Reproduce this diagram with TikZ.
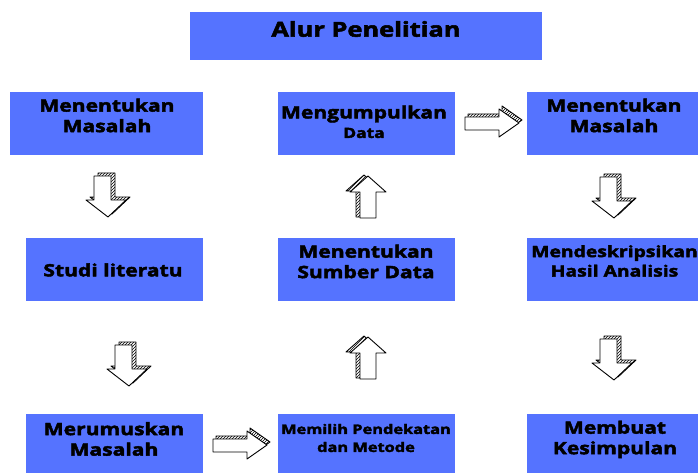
\documentclass[tikz,border=0pt]{standalone}
\usepackage{fontspec}
\setmainfont{Open Sans}[BoldFeatures={FakeBold=2.6,FakeStretch=1.24}]
\usetikzlibrary{patterns}
\definecolor{boxblue}{HTML}{5573FF}
\tikzset{
  box/.style={fill=boxblue, draw=none, rectangle, inner sep=0pt},
  lbl/.style={font=\bfseries\fontsize{17}{20.5}\selectfont, align=center, inner sep=0pt, text=black},
  slbl/.style={font=\bfseries\fontsize{13.2}{18}\selectfont, align=center, inner sep=0pt, text=black},
  ttl/.style={font=\bfseries\fontsize{20.5}{22}\selectfont, inner sep=0pt, text=black},
  arr/.style={line width=0.9pt, line join=round, draw=black},
  back/.style={arr, fill=white, postaction={pattern=north east lines}},
  front/.style={arr, fill=white},
  pics/downarr/.style={code={
    \path[back, shift={(4,-3)}] (8,4) -- (25,4) -- (25,28) -- (40,28) -- (22,45) -- (0,28) -- (8,28) -- cycle;
    \path[front] (8,4) -- (25,4) -- (25,28) -- (40,28) -- (22,45) -- (0,28) -- (8,28) -- cycle;
  }},
  pics/uparr/.style={code={
    \path[back, shift={(-4,-1)}] (22,0) -- (40,16) -- (30,16) -- (30,42) -- (14,42) -- (14,16) -- (4,16) -- cycle;
    \path[front] (22,0) -- (40,16) -- (30,16) -- (30,42) -- (14,42) -- (14,16) -- (4,16) -- cycle;
  }},
  pics/rightarr/.style={code={
    \path[back, shift={(3,-3)}] (2,10) -- (36,10) -- (36,2) -- (56,16) -- (36,30) -- (36,23) -- (2,23) -- cycle;
    \path[front] (2,10) -- (36,10) -- (36,2) -- (56,16) -- (36,30) -- (36,23) -- (2,23) -- cycle;
  }},
}
\begin{document}
\begin{tikzpicture}[x=1pt, y=-1pt]
\path[use as bounding box] (0,0) rectangle (698,473);
% boxes
\path[box] (190,12) rectangle (542,60);
\path[box] (10,92) rectangle (203,155);
\path[box] (278,92) rectangle (455,155);
\path[box] (527,92) rectangle (698,155);
\path[box] (26,238) rectangle (203,301);
\path[box] (278,238) rectangle (455,301);
\path[box] (527,238) rectangle (698,301);
\path[box] (26,414) rectangle (203,473);
\path[box] (278,414) rectangle (455,473);
\path[box] (527,414) rectangle (698,473);
% texts
\node[ttl] (tTitle) at (366,29) {Alur Penelitian};
\node[lbl] (t1) at (107,115.5) {Menentukan\\Masalah};
\node[lbl] (t2a) at (364,114) {Mengumpulkan};
\node[font=\bfseries\fontsize{14}{16}\selectfont, inner sep=0pt] (t2b) at (364,133) {Data};
\node[lbl] (t3) at (614,115.5) {Menentukan\\Masalah};
\node[lbl] (t4) at (113,270) {Studi literatu};
\node[lbl] (t5) at (366,261.5) {Menentukan\\Sumber Data};
\node[lbl, font=\bfseries\fontsize{15.6}{19.5}\selectfont] (t6) at (614.5,261) {Mendeskripsikan\\Hasil Analisis};
\node[lbl] (t7) at (114,439) {Merumuskan\\Masalah};
\node[slbl] (t8) at (366,438) {Memilih Pendekatan\\dan Metode};
\node[lbl] (t9) at (615,439.5) {Membuat\\Kesimpulan};
% arrows
\pic at (86,172) {downarr};
\pic at (592,173) {downarr};
\pic at (107,341) {downarr};
\pic at (592,335) {downarr};
\pic at (346,176) {uparr};
\pic at (346,337) {uparr};
\pic at (463,107) {rightarr};
\pic at (211,429) {rightarr};
\end{tikzpicture}
\end{document}
